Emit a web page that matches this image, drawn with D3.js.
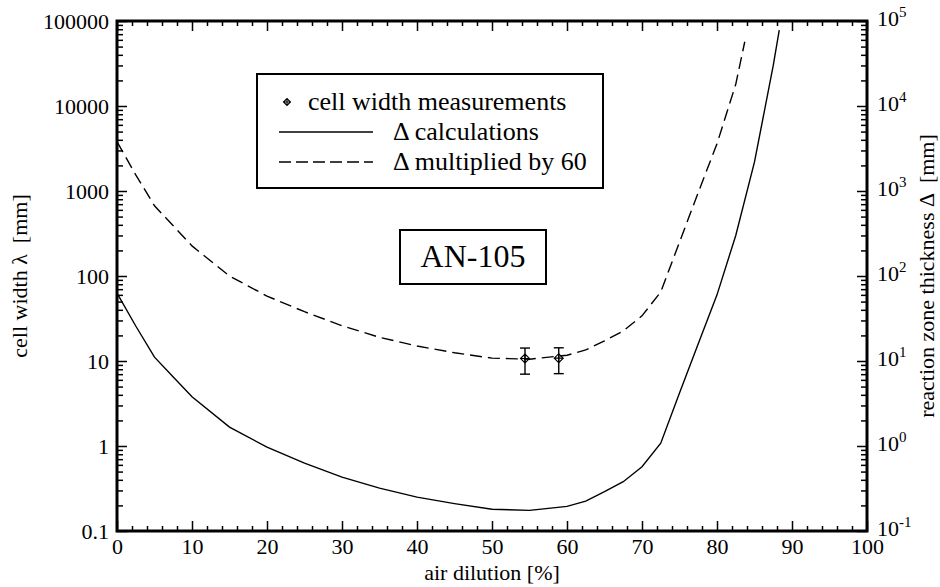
<!DOCTYPE html>
<html lang="en">
<head>
<meta charset="UTF-8">
<title>AN-105 cell width</title>
<style>
    body { margin: 0; padding: 0; background: white; }
    text { font-family: "Liberation Serif", "Times New Roman", serif; fill: black; }
</style>
</head>
<body>
<svg id="chart" width="940" height="587"></svg>
<script src="https://d3js.org/d3.v7.min.js"></script>
<script>
    // Δ calculations (right axis, mm)
    const dilution = [0, 2.5, 5, 7.5, 10, 15, 20, 25, 30, 35, 40, 45, 50, 55, 60, 62.5, 65, 67.5, 70, 72.5, 75, 77.5, 80, 82.5, 85, 87.5, 88.3];
    const delta = [63, 25.8, 11.1, 6.5, 3.8, 1.67, 0.97, 0.63, 0.43, 0.32, 0.25, 0.21, 0.18, 0.175, 0.195, 0.225, 0.29, 0.38, 0.57, 1.08, 4.2, 16, 60, 300, 2200, 30000, 78000];

    // Δ multiplied by 60 (left axis, mm)
    const dilution60 = [0, 2.5, 5, 7.5, 10, 15, 20, 25, 30, 35, 40, 45, 50, 55, 60, 62.5, 65, 67.5, 70, 72.5, 75, 77.5, 80, 82.5, 83.7];
    const delta60 = [3800, 1550, 670, 390, 226, 100, 58, 38, 26, 19, 15, 12.5, 10.8, 10.5, 11.7, 13.5, 17.3, 22.6, 34, 65, 250, 960, 3600, 18000, 57000];

    // cell width measurements
    const measDilution = [54.4, 58.9];
    const measWidth = [10.7, 10.8];
    const measLow = [7.0, 7.1];
    const measHigh = [14.2, 14.3];

    const xTicks = [0, 10, 20, 30, 40, 50, 60, 70, 80, 90, 100];
    const yTicks = [0.1, 1, 10, 100, 1000, 10000, 100000];
    const yLeftLabels = ["0.1", "1", "10", "100", "1000", "10000", "100000"];
    const yRightExp = ["-1", "0", "1", "2", "3", "4", "5"];
    const legendLabels = ["cell width measurements", "\u0394 calculations", "\u0394 multiplied by 60"];

    const svg = d3.select("#chart");
    const mLeft = 117, mRight = 867, mTop = 21, mBottom = 531;

    const x = d3.scaleLinear().domain([0, 100]).range([mLeft, mRight]);
    const y = d3.scaleLog().domain([0.1, 100000]).range([mBottom, mTop]);

    // minor ticks on log axis
    const yMinor = [];
    yTicks.slice(0, -1).forEach(function(d) {
        for (let k = 2; k <= 9; k++) yMinor.push(d * k);
    });
    const xMinor = d3.range(0, 101, 2).filter(function(d) { return d % 10 != 0; });

    function styleAxis(g) {
        g.select(".domain").remove();
        g.selectAll("line").attr("stroke", "black").attr("stroke-width", 1.5);
        g.selectAll("text").attr("font-size", "22px").attr("fill", "black")
            .attr("font-family", "Liberation Serif, Times New Roman, serif");
    }

    // left axis
    svg.append("g").attr("transform", "translate(" + mLeft + ",0)")
        .call(d3.axisLeft(y).tickValues(yTicks).tickSize(-10).tickPadding(8)
            .tickFormat(function(d, i) { return yLeftLabels[i]; }))
        .call(styleAxis);
    svg.append("g").attr("transform", "translate(" + mLeft + ",0)")
        .call(d3.axisLeft(y).tickValues(yMinor).tickSize(-6).tickFormat(""))
        .call(styleAxis);

    // right axis
    svg.append("g").attr("transform", "translate(" + mRight + ",0)")
        .call(d3.axisRight(y).tickValues(yTicks).tickSize(-10).tickFormat(""))
        .call(styleAxis);
    svg.append("g").attr("transform", "translate(" + mRight + ",0)")
        .call(d3.axisRight(y).tickValues(yMinor).tickSize(-6).tickFormat(""))
        .call(styleAxis);
    yTicks.forEach(function(d, i) {
        const t = svg.append("text")
            .attr("x", mRight + 10)
            .attr("y", y(d) + 5)
            .attr("font-size", "22px");
        t.append("tspan").text("10");
        t.append("tspan").attr("dy", -9).attr("font-size", "15px").text(yRightExp[i]);
    });

    // bottom axis
    svg.append("g").attr("transform", "translate(0," + mBottom + ")")
        .call(d3.axisBottom(x).tickValues(xTicks).tickSize(-10).tickPadding(7)
            .tickFormat(function(d) { return d; }))
        .call(styleAxis);
    svg.append("g").attr("transform", "translate(0," + mBottom + ")")
        .call(d3.axisBottom(x).tickValues(xMinor).tickSize(-5).tickFormat(""))
        .call(styleAxis);

    // top axis
    svg.append("g").attr("transform", "translate(0," + mTop + ")")
        .call(d3.axisTop(x).tickValues(xTicks).tickSize(-10).tickFormat(""))
        .call(styleAxis);
    svg.append("g").attr("transform", "translate(0," + mTop + ")")
        .call(d3.axisTop(x).tickValues(xMinor).tickSize(-5).tickFormat(""))
        .call(styleAxis);

    // frame
    svg.append("rect")
        .attr("x", mLeft).attr("y", mTop)
        .attr("width", mRight - mLeft).attr("height", mBottom - mTop)
        .attr("fill", "none").attr("stroke", "black").attr("stroke-width", 3);

    // axis titles
    svg.append("text")
        .attr("x", (mLeft + mRight) / 2).attr("y", 580)
        .attr("text-anchor", "middle").attr("font-size", "22px")
        .text("air dilution [%]");
    svg.append("text")
        .attr("transform", "translate(27," + ((mTop + mBottom) / 2) + ") rotate(-90)")
        .attr("text-anchor", "middle").attr("font-size", "22px")
        .attr("xml:space", "preserve")
        .text("cell width \u03bb  [mm]");
    svg.append("text")
        .attr("transform", "translate(934," + ((mTop + mBottom) / 2) + ") rotate(-90)")
        .attr("text-anchor", "middle").attr("font-size", "22px")
        .attr("xml:space", "preserve")
        .text("reaction zone thickness \u0394  [mm]");

    // curves
    const line = d3.line()
        .x(function(d) { return x(d[0]); })
        .y(function(d) { return y(d[1]); });

    svg.append("path")
        .datum(d3.zip(dilution, delta))
        .attr("d", line)
        .attr("fill", "none").attr("stroke", "black").attr("stroke-width", 1.4);

    svg.append("path")
        .datum(d3.zip(dilution60, delta60))
        .attr("d", line)
        .attr("fill", "none").attr("stroke", "black").attr("stroke-width", 1.4)
        .attr("stroke-dasharray", "12,6");

    // measurement marker: diamond with a cross
    function marker(g, cx, cy, r) {
        g.append("path")
            .attr("d", "M" + (cx - r) + "," + cy + "L" + cx + "," + (cy - r) + "L" + (cx + r) + "," + cy + "L" + cx + "," + (cy + r) + "Z" +
                "M" + (cx - r) + "," + cy + "H" + (cx + r) + "M" + cx + "," + (cy - r) + "V" + (cy + r))
            .attr("fill", "none").attr("stroke", "black").attr("stroke-width", 1.1);
    }

    const meas = svg.append("g");
    measDilution.forEach(function(d, i) {
        const cx = x(d);
        meas.append("line").attr("x1", cx).attr("x2", cx)
            .attr("y1", y(measLow[i])).attr("y2", y(measHigh[i]))
            .attr("stroke", "black").attr("stroke-width", 1.4);
        [measLow[i], measHigh[i]].forEach(function(v) {
            meas.append("line").attr("x1", cx - 5).attr("x2", cx + 5)
                .attr("y1", y(v)).attr("y2", y(v))
                .attr("stroke", "black").attr("stroke-width", 1.4);
        });
        marker(meas, cx, y(measWidth[i]), 4.5);
    });

    // legend
    const legend = svg.append("g");
    legend.append("rect")
        .attr("x", 257).attr("y", 74).attr("width", 346).attr("height", 114)
        .attr("fill", "white").attr("stroke", "black").attr("stroke-width", 2);
    marker(legend, 287, 102, 3.5);
    legend.append("text").attr("x", 308).attr("y", 110).attr("font-size", "26px").text(legendLabels[0]);
    legend.append("line").attr("x1", 279).attr("x2", 373).attr("y1", 132).attr("y2", 132)
        .attr("stroke", "black").attr("stroke-width", 1.4);
    legend.append("text").attr("x", 393).attr("y", 140).attr("font-size", "26px").text(legendLabels[1]);
    legend.append("line").attr("x1", 279).attr("x2", 373).attr("y1", 162).attr("y2", 162)
        .attr("stroke", "black").attr("stroke-width", 1.4).attr("stroke-dasharray", "12,5");
    legend.append("text").attr("x", 393).attr("y", 170).attr("font-size", "26px").text(legendLabels[2]);

    // case label
    svg.append("rect")
        .attr("x", 400).attr("y", 230).attr("width", 146).attr("height", 54)
        .attr("fill", "white").attr("stroke", "black").attr("stroke-width", 2);
    svg.append("text")
        .attr("x", 473).attr("y", 267)
        .attr("text-anchor", "middle").attr("font-size", "32px")
        .text("AN-105");
</script>
</body>
</html>
